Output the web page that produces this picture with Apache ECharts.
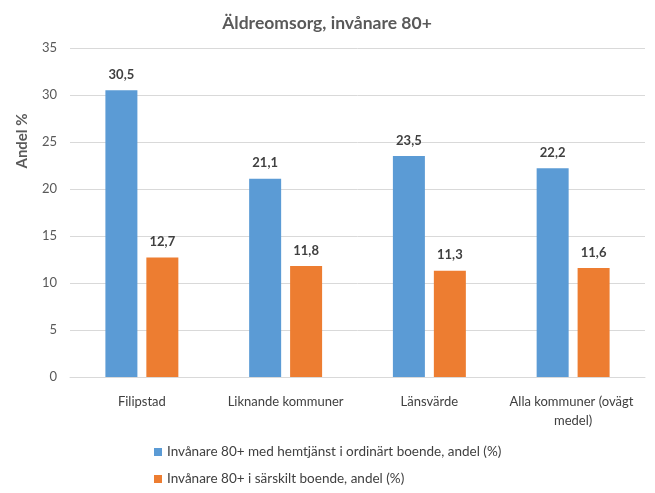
<!DOCTYPE html>
<html>
<head>
<meta charset="utf-8">
<script src="https://cdn.jsdelivr.net/npm/echarts@6/dist/echarts.min.js"></script>
<style>
  html, body { margin: 0; padding: 0; background: #ffffff; }
  #chart { width: 655px; height: 493px; }
</style>
</head>
<body>
<div id="chart"></div>
<script>
const categories = ['Filipstad', 'Liknande kommuner', 'Länsvärde', 'Alla kommuner (ovägt medel)'];
const seriesNames = ['Invånare 80+ med hemtjänst i ordinärt boende, andel (%)', 'Invånare 80+ i särskilt boende, andel (%)'];
const hemtjanst = [30.5, 21.1, 23.5, 22.2];
const sarskilt = [12.7, 11.8, 11.3, 11.6];
const yTicks = [0, 5, 10, 15, 20, 25, 30, 35];
const yAxisTitle = 'Andel %';

const FONT = 'Lato, "Open Sans", sans-serif';
const chart = echarts.init(document.getElementById('chart'), null, { renderer: 'canvas' });

const labelStyle = {
  show: true,
  position: 'top',
  distance: 9,
  fontFamily: FONT,
  fontSize: 13,
  fontWeight: 'bold',
  color: '#404040',
  formatter: p => String(p.value).replace('.', ',')
};

const legendCommon = {
  orient: 'horizontal',
  left: 149,
  itemWidth: 8,
  itemHeight: 8,
  icon: 'rect',
  textStyle: { fontFamily: FONT, fontSize: 13.5, color: '#404040' }
};

chart.setOption({
  animation: false,
  backgroundColor: '#ffffff',
  title: {
    text: 'Äldreomsorg, invånare 80+',
    left: 322,
    textAlign: 'center',
    top: 9,
    textStyle: { fontFamily: FONT, fontSize: 17.5, fontWeight: 'bold', color: '#595959' }
  },
  graphic: [{
    type: 'text',
    x: 22,
    y: 141,
    rotation: Math.PI / 2,
    style: {
      text: yAxisTitle,
      fontFamily: FONT, fontSize: 15, fontWeight: 'bold', fill: '#595959',
      align: 'center', verticalAlign: 'middle'
    }
  }],
  legend: [
    Object.assign({ top: 440, data: [seriesNames[0]] }, legendCommon),
    Object.assign({ top: 467, data: [seriesNames[1]] }, legendCommon)
  ],
  grid: { left: 70, right: 10, top: 48, bottom: 116, containLabel: false },
  xAxis: {
    type: 'category',
    data: categories,
    axisLine: { show: true, lineStyle: { color: '#d9d9d9' } },
    axisTick: { show: false },
    axisLabel: {
      fontFamily: FONT, fontSize: 13, color: '#404040', margin: 15,
      interval: 0, width: 142, overflow: 'break', lineHeight: 19
    }
  },
  yAxis: {
    type: 'value',
    min: yTicks[0],
    max: yTicks[yTicks.length - 1],
    interval: 5,
    axisLine: { show: false },
    axisTick: { show: false },
    axisLabel: { fontFamily: FONT, fontSize: 13, color: '#595959', margin: 13 },
    splitLine: { lineStyle: { color: '#d9d9d9', width: 1 } }
  },
  series: [
    {
      name: seriesNames[0], type: 'bar', data: hemtjanst,
      barWidth: 32, barGap: '28%',
      itemStyle: { color: '#5B9BD5' }, label: labelStyle
    },
    {
      name: seriesNames[1], type: 'bar', data: sarskilt,
      barWidth: 32, barGap: '28%',
      itemStyle: { color: '#ED7D31' }, label: labelStyle
    }
  ]
});
</script>
</body>
</html>
